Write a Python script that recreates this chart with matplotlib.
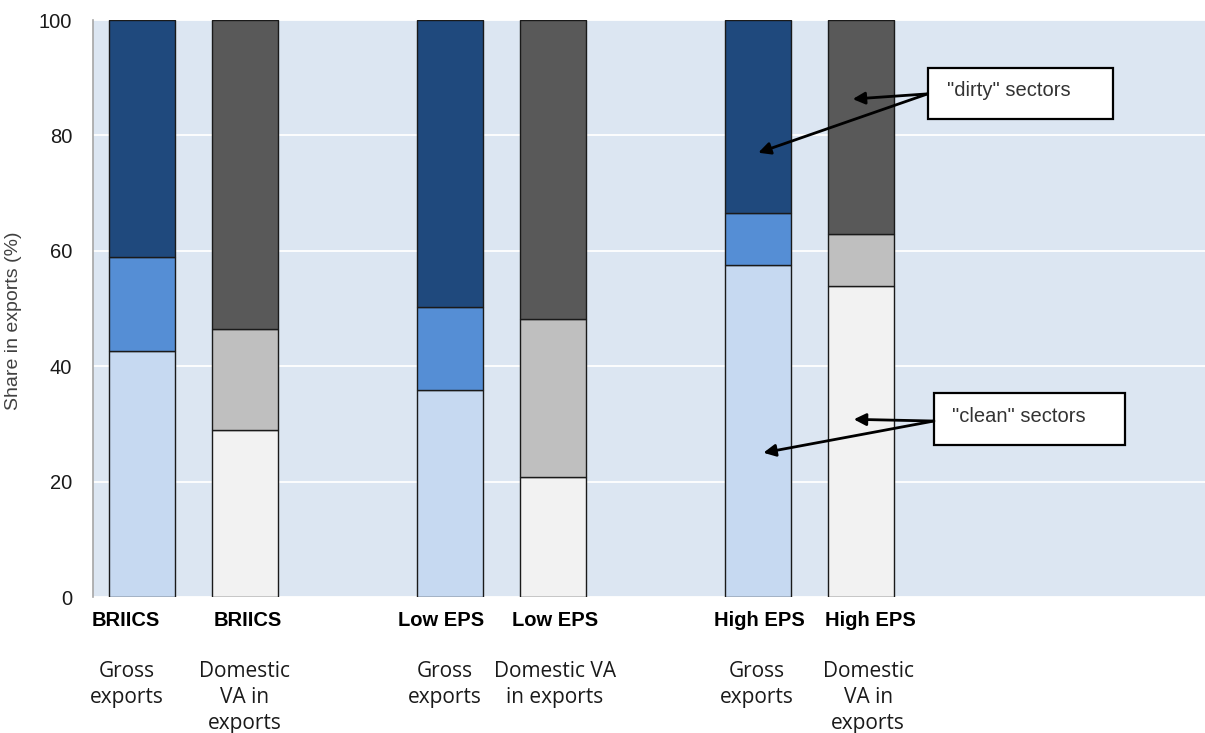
import matplotlib
matplotlib.use("Agg")
import matplotlib.pyplot as plt
from matplotlib.patches import Rectangle

plt.rcParams["font.family"] = ["Liberation Sans", "DejaVu Sans"]

# data (shares in %, stacked bottom -> top)
groups = ["BRIICS", "BRIICS", "Low EPS", "Low EPS", "High EPS", "High EPS"]
measures = ["Gross\nexports", "Domestic\nVA in\nexports",
            "Gross\nexports", "Domestic VA\nin exports",
            "Gross\nexports", "Domestic\nVA in\nexports"]
clean = [42.6, 28.9, 35.9, 20.8, 57.6, 53.9]
middle = [16.3, 17.6, 14.3, 27.3, 8.9, 9.1]
dirty = [41.1, 53.5, 49.8, 51.9, 33.5, 37.0]

positions = [0, 1, 3, 4, 6, 7]
is_gross = [True, False, True, False, True, False]

blues = ["#c6d9f1", "#558ed5", "#1f497d"]
greys = ["#f2f2f2", "#bfbfbf", "#595959"]

fig = plt.figure(figsize=(12.05, 7.33), dpi=100)
ax = fig.add_axes([0.0772, 0.1855, 0.9228, 0.7872])
ax.set_facecolor("#dce6f2")

for i, x in enumerate(positions):
    cols = blues if is_gross[i] else greys
    bottom = 0
    for val, c in zip([clean[i], middle[i], dirty[i]], cols):
        ax.bar(x, val, bottom=bottom, width=0.645, color=c,
               edgecolor="#1a1a1a", linewidth=1.0, zorder=3)
        bottom += val

ax.set_ylim(0, 100)
ax.set_xlim(-0.477, 10.35)
ax.set_yticks([0, 20, 40, 60, 80, 100])
ax.yaxis.grid(True, color="white", linewidth=1.3, zorder=0)
ax.set_axisbelow(True)
ax.set_xticks([])
ax.tick_params(axis="y", length=0, pad=15, labelsize=14.5, labelcolor="#1a1a1a")
for s in ["top", "right", "bottom"]:
    ax.spines[s].set_visible(False)
ax.spines["left"].set_color("#a6a6a6")
ax.spines["left"].set_linewidth(1.2)
ax.set_ylabel("Share in exports (%)", fontsize=14, color="#404040")
ax.yaxis.set_label_coords(-0.0638, 0.478)

# category labels under the bars (slight offsets as in the original)
group_dx = [-0.16, 0.03, -0.09, 0.02, 0.01, 0.09]
measure_dx = [-0.15, 0.0, -0.05, 0.02, -0.01, 0.07]
for i, x in enumerate(positions):
    ax.annotate(groups[i], xy=(x + group_dx[i], 0), xycoords=("data", "axes fraction"),
                xytext=(0, -17), textcoords="offset points", ha="center", va="center",
                fontsize=14.5, fontweight="bold")
    ax.annotate(measures[i], xy=(x + measure_dx[i], 0), xycoords=("data", "axes fraction"),
                xytext=(0, -46), textcoords="offset points", ha="center", va="top",
                fontsize=15, family=["Open Sans", "DejaVu Sans"], linespacing=1.33,
                color="#1a1a1a")

# annotation boxes
arrow_kw = dict(arrowstyle="-|>", color="black", lw=2, mutation_scale=18,
                shrinkA=0, shrinkB=0)
ax.add_patch(Rectangle((7.65, 82.8), 1.8, 8.9, facecolor="white",
                       edgecolor="black", linewidth=1.6, zorder=5))
ax.text(7.84, 87.7, "\"dirty\" sectors", fontsize=14.5, color="#333333",
        va="center", ha="left", zorder=6)
for tip in [(6.92, 86.3), (6.0, 77.0)]:
    ax.annotate("", xy=tip, xytext=(7.65, 87.2), arrowprops=arrow_kw, zorder=6)

ax.add_patch(Rectangle((7.71, 26.3), 1.86, 9.1, facecolor="white",
                       edgecolor="black", linewidth=1.6, zorder=5))
ax.text(7.89, 31.2, "\"clean\" sectors", fontsize=14.5, color="#333333",
        va="center", ha="left", zorder=6)
for tip in [(6.93, 30.8), (6.05, 25.0)]:
    ax.annotate("", xy=tip, xytext=(7.71, 30.5), arrowprops=arrow_kw, zorder=6)

fig.savefig("out.png", dpi=100)
